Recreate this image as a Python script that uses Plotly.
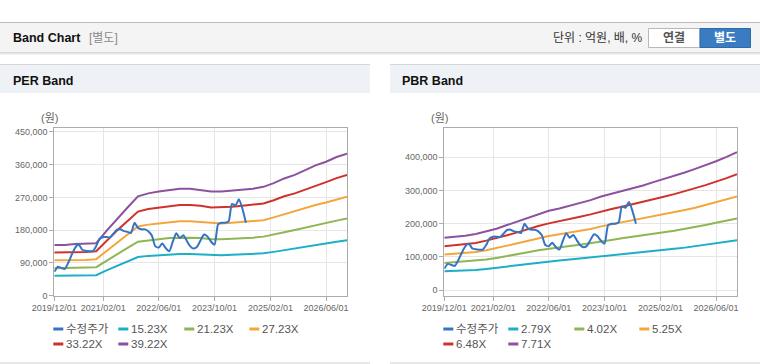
import pandas as pd
import plotly.graph_objects as go

W, H = 760, 364

# ---------------- data ----------------
UNIT = 1000  # values below are in thousands of 원

# 수정주가 (adjusted price), monthly from 2019/12
PRICE_START = "2019-12-01"
PRICE = [65, 79, 76, 73, 90, 112, 132, 140, 126, 123, 122, 122,
         136, 156, 161, 161, 160, 170, 181, 182, 177, 175, 172, 200,
         186, 182, 182, 177, 165, 136, 132, 143, 130, 122, 148, 171,
         158, 166, 150, 136, 129, 134, 152, 168, 162, 148, 140, 196,
         200, 200, 204, 252, 248, 265, 238, 200]

# band lines, every 3 months from 2019/12 to 2026/12
BAND_START = "2019-12-01"
PER_NAMES = ["15.23X", "21.23X", "27.23X", "33.22X", "39.22X"]
PER_1523 = [54, 54, 55, 55, 56, 69, 82, 94, 106, 109, 111, 113, 114, 114, 113,
            111, 111, 112, 113, 114, 116, 120, 125, 129, 134, 139, 143, 148, 152]
PER_2123 = [75, 75, 77, 77, 78, 96, 114, 131, 148, 152, 155, 158, 159, 159, 158,
            155, 155, 156, 158, 159, 162, 167, 174, 180, 187, 194, 199, 206, 212]
PER_2723 = [97, 97, 98, 98, 100, 123, 147, 168, 190, 195, 198, 202, 204, 204, 202,
            198, 198, 200, 202, 204, 207, 215, 224, 231, 240, 249, 256, 265, 272]
PER_3322 = [118, 118, 120, 120, 122, 151, 179, 205, 231, 238, 242, 247, 249, 249, 247,
            242, 242, 244, 247, 249, 253, 262, 273, 281, 292, 303, 312, 323, 332]
PER_3922 = [139, 139, 142, 142, 144, 178, 211, 242, 273, 281, 286, 291, 294, 294, 291,
            286, 286, 288, 291, 294, 299, 309, 322, 332, 345, 358, 368, 381, 390]

PBR_NAMES = ["2.79X", "4.02X", "5.25X", "6.48X", "7.71X"]
PBR_279 = [57, 58, 59.5, 61, 64, 67, 71, 75, 79, 83, 86.5, 89, 92, 95, 98,
           102, 105, 108, 111, 114, 117.5, 121, 124.5, 128, 132, 136, 140.5, 145, 150]
PBR_402 = [82, 84, 86, 88, 92, 97, 102, 108, 114, 120, 125, 128, 133, 137, 141,
           147, 151, 156, 160, 164, 169, 174, 179, 184, 190, 196, 203, 209, 216]
PBR_525 = [107, 109, 112, 115, 120, 126, 134, 141, 149, 156, 163, 168, 173, 179, 184,
           192, 198, 203, 209, 215, 221, 228, 234, 241, 248, 256, 264, 273, 282]
PBR_648 = [132, 135, 138, 142, 149, 156, 165, 174, 184, 193, 201, 207, 214, 221, 228,
           237, 244, 251, 258, 265, 273, 281, 289, 297, 307, 316, 326, 337, 349]
PBR_771 = [158, 160, 164, 169, 177, 185, 196, 207, 218, 229, 239, 246, 254, 263, 271,
           282, 290, 298, 307, 315, 325, 334, 344, 354, 365, 376, 388, 401, 415]

PRICE_NAME = "수정주가"
X_TICKS = ["2019-12-01", "2021-02-01", "2022-06-01", "2023-10-01", "2025-02-01", "2026-06-01"]
X_TICK_TEXT = ["2019/12/01", "2021/02/01", "2022/06/01", "2023/10/01", "2025/02/01", "2026/06/01"]
X_RANGE = ["2019-12-01", "2026-12-01"]
PER_Y_TICKS = [0, 90000, 180000, 270000, 360000, 450000]
PBR_Y_TICKS = [0, 100000, 200000, 300000, 400000]

COLORS = ["#3574c4", "#1cafc6", "#8fb654", "#f4a63c", "#d0322b", "#8c519f"]

# ---------------- helpers ----------------
def px(x):
    return x / W


def py(y):
    return 1 - y / H


price_dates = pd.date_range(PRICE_START, periods=len(PRICE), freq="MS")
band_dates = pd.date_range(BAND_START, periods=len(PER_1523), freq="3MS")

fig = go.Figure()

per_bands = [PER_1523, PER_2123, PER_2723, PER_3322, PER_3922]
pbr_bands = [PBR_279, PBR_402, PBR_525, PBR_648, PBR_771]

for axis_suffix, bands, names in (("", per_bands, PER_NAMES), ("2", pbr_bands, PBR_NAMES)):
    for i, (vals, nm) in enumerate(zip(bands, names)):
        fig.add_trace(go.Scatter(
            x=band_dates, y=[v * UNIT for v in vals], name=nm, mode="lines",
            line=dict(color=COLORS[i + 1], width=2),
            xaxis="x" + axis_suffix, yaxis="y" + axis_suffix, showlegend=False,
            hoverinfo="skip"))
    fig.add_trace(go.Scatter(
        x=price_dates, y=[v * UNIT for v in PRICE], name=PRICE_NAME, mode="lines",
        line=dict(color=COLORS[0], width=2, shape="spline", smoothing=0.6),
        xaxis="x" + axis_suffix, yaxis="y" + axis_suffix, showlegend=False,
        hoverinfo="skip"))

TICK_FONT = dict(family="Liberation Sans, Noto Sans CJK KR, sans-serif", size=9, color="#666")
AX_LINE = "#acacac"
GRID = "#e6e6e6"


def xaxis(x0, x1, anchor):
    return dict(domain=[px(x0), px(x1)], type="date", range=X_RANGE,
                tickvals=X_TICKS, ticktext=X_TICK_TEXT, tickfont=TICK_FONT,
                ticks="outside", ticklen=4, tickcolor=AX_LINE,
                showline=True, linecolor=AX_LINE, mirror=True, automargin=False,
                showgrid=True, gridcolor=GRID, zeroline=False, anchor=anchor)


def yaxis(rng, ticks, anchor):
    return dict(domain=[py(295.5), py(128.3)], range=rng, tickvals=ticks,
                tickformat=",d", tickfont=TICK_FONT,
                ticks="outside", ticklen=4, tickcolor=AX_LINE, automargin=False,
                showline=True, linecolor=AX_LINE, mirror=True,
                showgrid=True, gridcolor=GRID, zeroline=False, anchor=anchor)


shapes = []
annotations = []


def rect(x0, y0, x1, y1, fill, line=None):
    shapes.append(dict(type="rect", xref="paper", yref="paper",
                       x0=px(x0), x1=px(x1), y0=py(y1), y1=py(y0),
                       fillcolor=fill, layer="below",
                       line=dict(width=1 if line else 0, color=line or fill)))


def hline(x0, x1, y, color, width=1):
    shapes.append(dict(type="line", xref="paper", yref="paper",
                       x0=px(x0), x1=px(x1), y0=py(y), y1=py(y),
                       line=dict(color=color, width=width)))


def text(x, y, s, size=12, color="#222", bold=False, anchor="left",
         family="Liberation Sans, Noto Sans CJK KR, sans-serif"):
    if bold:
        s = "<b>" + s + "</b>"
    annotations.append(dict(xref="paper", yref="paper", x=px(x), y=py(y), text=s,
                            showarrow=False, xanchor=anchor, yanchor="middle",
                            font=dict(family=family, size=size, color=color)))


# header bar
rect(0, 22.5, W, 53, "#f4f4f4")
hline(0, W, 22.5, "#bcbcbc")
hline(0, W, 53, "#c4c4c4")
hline(0, W, 54, "#e8e8e8")
text(10.5, 38.5, "Band Chart", size=12.5, color="#111", bold=True)
text(87, 38.5, "[별도]", size=12, color="#8a8a8a")
text(551, 38.5, "단위 : 억원, 배, %", size=12, color="#333")
rect(648.5, 28.5, 700, 47.5, "#ffffff", "#b8b8b8")
rect(700, 28.5, 750.5, 47.5, "#3a7cc1", "#2f6aa8")
text(674.2, 38.5, "연결", size=12, color="#555", bold=True, anchor="center")
text(725.2, 38.5, "별도", size=12, color="#ffffff", bold=True, anchor="center")

# panels
for off, title in ((0, "PER Band"), (390, "PBR Band")):
    rect(off, 64.5, off + 370, 93, "#eef1f6")
    hline(off, off + 370, 64.5, "#d6d6d6")
    hline(off, off + 370, 363, "#cfcfcf")
    text(off + 10.5, 80.5, title, size=12.5, color="#111", bold=True)

text(49, 118, "(원)", size=11, color="#666", anchor="center")
text(439.5, 118, "(원)", size=11, color="#666", anchor="center")

# custom legends
LEG_FONT = "Liberation Sans, Noto Sans CJK KR, sans-serif"
for off, names in ((0, PER_NAMES), (390, PBR_NAMES)):
    labels = [PRICE_NAME] + names
    slots = [(53.3, 329), (118.3, 329), (184.3, 329), (249.3, 329), (53.3, 344), (118.3, 344)]
    for i, (lab, (lx, ly)) in enumerate(zip(labels, slots)):
        x0 = off + lx
        hline(x0, x0 + 10, ly, COLORS[i], width=3)
        text(x0 + 11, ly, lab, size=11.5, color="#555", family=LEG_FONT)

fig.update_layout(
    template="none",
    width=W, height=H, autosize=False,
    margin=dict(l=0, r=0, t=0, b=0, pad=0, autoexpand=False),
    paper_bgcolor="#ffffff", plot_bgcolor="#ffffff",
    xaxis=xaxis(54.3, 347, "y"),
    yaxis=yaxis([0, 460000], PER_Y_TICKS, "x"),
    xaxis2=xaxis(444.3, 737, "y2"),
    yaxis2=yaxis([-16000, 487000], PBR_Y_TICKS, "x2"),
    shapes=shapes, annotations=annotations,
    showlegend=False,
)

fig.write_html(
    "out.html",
    config={"displayModeBar": False},
    post_script="document.body.style.margin='0';document.body.style.overflow='hidden';",
)
